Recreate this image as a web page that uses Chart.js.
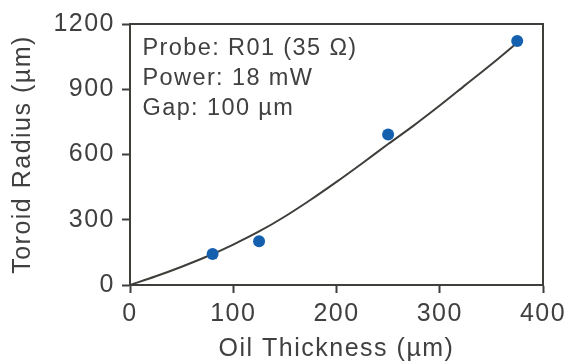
<!DOCTYPE html>
<html><head><meta charset="utf-8">
<script src="https://cdn.jsdelivr.net/npm/chart.js@4/dist/chart.umd.min.js"></script>
<style>html,body{margin:0;padding:0;background:#fff;overflow:hidden}</style>
</head><body>
<canvas id="c" width="571" height="364"></canvas>
<script>
// ---- data ----
const thickness = [80, 125, 250, 375];          // Oil thickness (µm)
const radius = [143, 201, 692, 1122];           // Toroid radius (µm)
const fitThickness = [0, 25, 50, 75, 100, 125, 150, 175, 200, 225, 250, 275, 300, 325, 350, 375];
const fitRadius = [0, 40, 84, 132, 186, 246, 315, 392, 474, 560, 648, 734, 825, 920, 1015, 1114];
const xTicks = [0, 100, 200, 300, 400];
const yTicks = [0, 300, 600, 900, 1200];
const xTitle = 'Oil Thickness (µm)';
const yTitle = 'Toroid Radius (µm)';
const annotationLines = ['Probe: R01 (35 Ω)', 'Power: 18 mW', 'Gap: 100 µm'];

const INK = '#3e3e3b';
const TEXT = '#404040';
const BLUE = '#1560ae';
const FONT = "'Liberation Sans', Arial, sans-serif";
const SPACING = '1.5px';

const spacingPlugin = {
  id: 'spacing',
  beforeUpdate(chart) { chart.ctx.letterSpacing = SPACING; },
  beforeLayout(chart) { chart.ctx.letterSpacing = SPACING; },
  beforeDraw(chart) { chart.ctx.letterSpacing = SPACING; }
};

const framePlugin = {
  id: 'frame',
  afterDatasetsDraw(chart) {
    const {ctx, chartArea: a} = chart;
    ctx.save();
    ctx.strokeStyle = INK;
    ctx.lineWidth = 2;
    ctx.beginPath();
    ctx.moveTo(a.left, a.top);
    ctx.lineTo(a.right, a.top);
    ctx.lineTo(a.right, a.bottom);
    ctx.stroke();
    // annotation text
    ctx.letterSpacing = '1.4px';
    ctx.fillStyle = TEXT;
    ctx.font = "23.5px " + FONT;
    ctx.textAlign = 'left';
    ctx.textBaseline = 'alphabetic';
    annotationLines.forEach((t, i) => ctx.fillText(t, a.left + 12.5, a.top + 30.5 + i * 30));
    ctx.restore();
  }
};

new Chart(document.getElementById('c'), {
  type: 'scatter',
  data: {
    datasets: [
      {
        type: 'line',
        data: fitThickness.map((x, i) => ({x, y: fitRadius[i]})),
        borderColor: INK,
        borderWidth: 2,
        pointRadius: 0,
        cubicInterpolationMode: 'monotone',
        fill: false,
        order: 2
      },
      {
        data: thickness.map((x, i) => ({x, y: radius[i]})),
        backgroundColor: BLUE,
        borderWidth: 0,
        pointRadius: 6,
        order: 1
      }
    ]
  },
  options: {
    responsive: false,
    animation: false,
    devicePixelRatio: 1,
    layout: {padding: {top: 24, right: 28, left: 0, bottom: 0}},
    plugins: {legend: {display: false}, tooltip: {enabled: false}},
    scales: {
      x: {
        type: 'linear', min: 0, max: 400,
        afterBuildTicks: s => { s.ticks = xTicks.map(v => ({value: v})); },
        afterFit: s => { s.height = 79; s.paddingLeft = 0; s.paddingRight = 0; },
        grid: {drawOnChartArea: false, drawTicks: true, tickLength: 8, tickWidth: 2, tickColor: INK},
        border: {display: true, color: INK, width: 2},
        ticks: {color: TEXT, padding: 6, maxRotation: 0, font: {family: FONT, size: 25}, callback: v => String(v)},
        title: {display: true, text: xTitle, color: TEXT, font: {family: FONT, size: 25, lineHeight: 1.2}, padding: {top: 0, bottom: 0}}
      },
      y: {
        type: 'linear', min: 0, max: 1200,
        afterBuildTicks: s => { s.ticks = yTicks.map(v => ({value: v})); },
        afterFit: s => { s.width = 130; s.paddingTop = 0; s.paddingBottom = 0; },
        grid: {drawOnChartArea: false, drawTicks: true, tickLength: 8, tickWidth: 2, tickColor: INK},
        border: {display: true, color: INK, width: 2},
        ticks: {color: TEXT, padding: 7, font: {family: FONT, size: 25}, callback: v => String(v)},
        title: {display: true, text: yTitle, color: TEXT, font: {family: FONT, size: 25, lineHeight: 1.2}, padding: {top: 8, bottom: 0}}
      }
    }
  },
  plugins: [spacingPlugin, framePlugin]
});
</script>
</body></html>
